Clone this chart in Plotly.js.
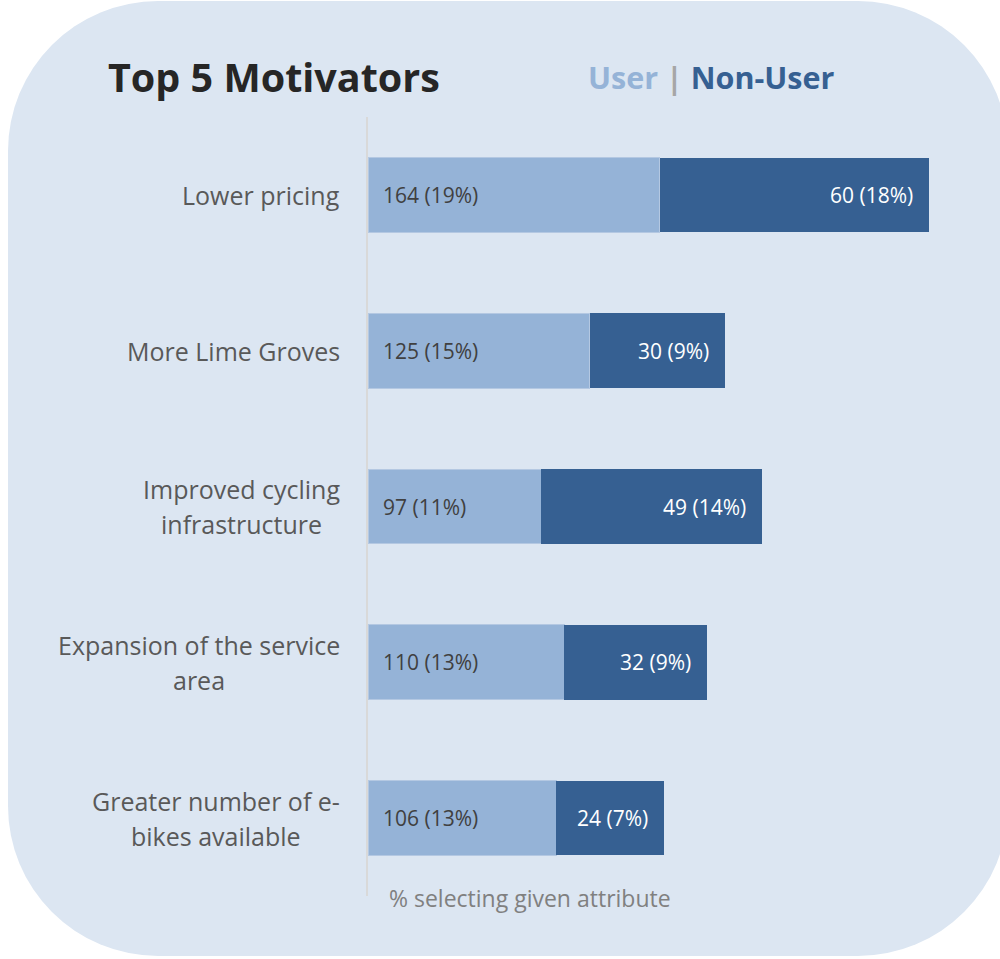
<!DOCTYPE html>
<html>
<head>
<meta charset="utf-8">
<script src="https://cdn.plot.ly/plotly-3.0.1.min.js"></script>
<style>
  html, body { margin: 0; padding: 0; width: 1000px; height: 959px; overflow: hidden; background: #ffffff; }
  #bg { position: absolute; left: 8px; top: 1px; width: 1000px; height: 955px; border-radius: 150px; background: #dce6f2; }
  #chart { position: absolute; left: 0; top: 0; width: 1000px; height: 959px; }
</style>
</head>
<body>
<div id="bg"></div>
<div id="chart"></div>
<script>
// ---- data ----
const categories = [
  "Lower pricing",
  "More Lime Groves",
  "Improved cycling<br>infrastructure",
  "Expansion of the service<br>area",
  "Greater number of e-<br>bikes available"
];
const userCounts = [164, 125, 97, 110, 106];
const userPct = [19.2, 14.6, 11.4, 12.9, 12.4];      // bar lengths (% of users)
const userPctLabel = [19, 15, 11, 13, 13];
const nonUserCounts = [60, 30, 49, 32, 24];
const nonUserPct = [17.7, 8.9, 14.5, 9.4, 7.1];      // bar lengths (% of non-users)
const nonUserPctLabel = [18, 9, 14, 9, 7];
const titleText = "Top 5 Motivators";
const legendUser = "User";
const legendNonUser = "Non-User";
const axisNote = "% selecting given attribute";

// ---- styles ----
const FONT = "'Open Sans', sans-serif";
const LABEL_SIZE = 25;
const USER_COLOR = "#95b3d7";
const NONUSER_COLOR = "#366092";

const yKeys = categories.map((c, i) => "c" + i);

// text measuring for centred multi-line category labels
const cv = document.createElement("canvas").getContext("2d");
cv.font = LABEL_SIZE + "px 'Open Sans'";
function textW(s) { return cv.measureText(s).width; }

const traces = [
  {
    type: "bar", orientation: "h", name: legendUser,
    y: yKeys, x: userPct,
    width: 0.48,
    marker: { color: USER_COLOR, line: { color: "#b4c8e2", width: 1 } },
    hoverinfo: "skip"
  },
  {
    type: "bar", orientation: "h", name: legendNonUser,
    y: yKeys, x: nonUserPct,
    width: 0.48,
    marker: { color: NONUSER_COLOR, line: { width: 0 } },
    hoverinfo: "skip"
  }
];

const annotations = [];
// category labels: lines centred on each other, block right-aligned next to the axis
categories.forEach((c, i) => {
  const lines = c.split("<br>");
  const lh = 35;
  const maxW = Math.max(...lines.map(textW));
  lines.forEach((ln, j) => {
    annotations.push({
      xref: "paper", yref: "y", x: 0, y: yKeys[i],
      xanchor: "center", yanchor: "middle", align: "center",
      xshift: -28 - maxW / 2,
      text: ln, showarrow: false,
      yshift: -((j - (lines.length - 1) / 2) * lh),
      font: { family: FONT, size: LABEL_SIZE, color: "#595959" }
    });
  });
});

// value labels
yKeys.forEach((k, i) => {
  annotations.push({
    xref: "x", yref: "y", x: 0, y: k, xanchor: "left", yanchor: "middle",
    xshift: 13, showarrow: false,
    text: userCounts[i] + " (" + userPctLabel[i] + "%)",
    font: { family: FONT, size: 21, color: "#404040" }
  });
  annotations.push({
    xref: "x", yref: "y", x: userPct[i] + nonUserPct[i], y: k, xanchor: "right", yanchor: "middle",
    xshift: -14, showarrow: false,
    text: nonUserCounts[i] + " (" + nonUserPctLabel[i] + "%)",
    font: { family: FONT, size: 21, color: "#ffffff" }
  });
});

// title
annotations.push({
  xref: "paper", yref: "paper", x: -0.431, y: 1.051, xanchor: "left", yanchor: "middle",
  showarrow: false, text: "<b>" + titleText + "</b>",
  font: { family: FONT, size: 39.5, color: "#262626" }
});
// legend text
annotations.push({
  xref: "paper", yref: "paper", x: 0.359, y: 1.051, xanchor: "left", yanchor: "middle",
  showarrow: false,
  text: "<b><span style='color:" + USER_COLOR + "'>" + legendUser + "</span>&nbsp;<span style='color:#a6a6a6'>|</span>&nbsp;<span style='color:" + NONUSER_COLOR + "'>" + legendNonUser + "</span></b>",
  font: { family: FONT, size: 30.5, color: NONUSER_COLOR }
});
// axis note
annotations.push({
  xref: "paper", yref: "paper", x: 0.031, y: -0.003, xanchor: "left", yanchor: "middle",
  showarrow: false, text: axisNote,
  font: { family: FONT, size: 23, color: "#808080" }
});

const layout = {
  width: 1000, height: 959,
  margin: { l: 368, r: 24, t: 117, b: 63, pad: 0 },
  paper_bgcolor: "rgba(0,0,0,0)",
  plot_bgcolor: "rgba(0,0,0,0)",
  barmode: "stack",
  showlegend: false,
  xaxis: { range: [0, 40], showgrid: false, zeroline: false, showticklabels: false, showline: false, ticks: "" },
  yaxis: { type: "category", categoryorder: "array", categoryarray: yKeys, range: [4.5, -0.5],
           showgrid: false, zeroline: false, showticklabels: false, ticks: "",
           showline: true, linecolor: "#d9d9d9", linewidth: 2 },
  annotations: annotations,
  font: { family: FONT }
};

Plotly.newPlot("chart", traces, layout, { displayModeBar: false, staticPlot: true });
</script>
</body>
</html>
